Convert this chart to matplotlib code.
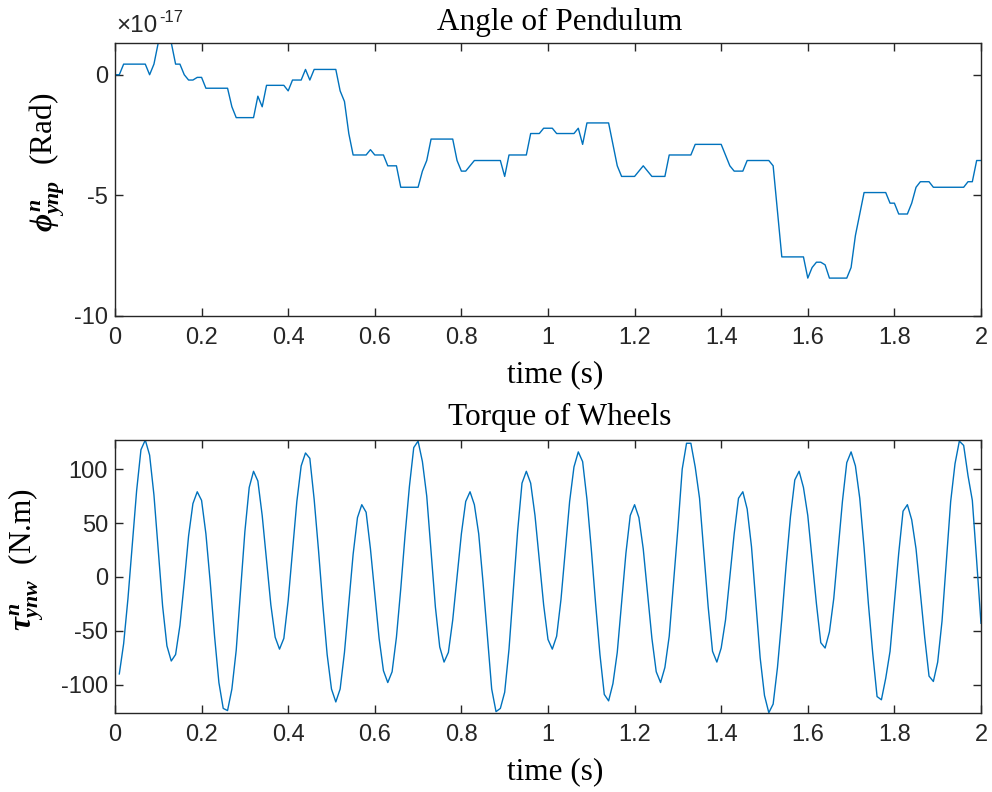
import numpy as np
import matplotlib
matplotlib.use("Agg")
import matplotlib.pyplot as plt
from matplotlib.ticker import FormatStrFormatter, FuncFormatter

# pendulum angle, in units of 1e-17 rad, sampled every 0.01 s from t = 0
phi_e17 = [
    0, 0, 0.44, 0.44, 0.44, 0.44, 0.44, 0.44, 0, 0.44,
    1.33, 1.33, 1.33, 1.33, 0.44, 0.44, 0, -0.22, -0.22, -0.11,
    -0.11, -0.56, -0.56, -0.56, -0.56, -0.56, -0.56, -1.33, -1.78, -1.78,
    -1.78, -1.78, -1.78, -0.89, -1.33, -0.44, -0.44, -0.44, -0.44, -0.44,
    -0.67, -0.22, -0.22, -0.22, 0.22, -0.22, 0.22, 0.22, 0.22, 0.22,
    0.22, 0.22, -0.67, -1.11, -2.44, -3.33, -3.33, -3.33, -3.33, -3.11,
    -3.33, -3.33, -3.33, -3.78, -3.78, -3.78, -4.67, -4.67, -4.67, -4.67,
    -4.67, -4.0, -3.56, -2.67, -2.67, -2.67, -2.67, -2.67, -2.67, -3.56,
    -4.0, -4.0, -3.78, -3.56, -3.56, -3.56, -3.56, -3.56, -3.56, -3.56,
    -4.22, -3.33, -3.33, -3.33, -3.33, -3.33, -2.44, -2.44, -2.44, -2.22,
    -2.22, -2.22, -2.44, -2.44, -2.44, -2.44, -2.44, -2.22, -2.89, -2.0,
    -2.0, -2.0, -2.0, -2.0, -2.0, -2.89, -3.78, -4.22, -4.22, -4.22,
    -4.22, -4.0, -3.78, -4.0, -4.22, -4.22, -4.22, -4.22, -3.33, -3.33,
    -3.33, -3.33, -3.33, -3.33, -2.89, -2.89, -2.89, -2.89, -2.89, -2.89,
    -2.89, -3.33, -3.78, -4.0, -4.0, -4.0, -3.56, -3.56, -3.56, -3.56,
    -3.56, -3.56, -3.78, -5.67, -7.56, -7.56, -7.56, -7.56, -7.56, -7.56,
    -8.44, -8.0, -7.78, -7.78, -7.89, -8.44, -8.44, -8.44, -8.44, -8.44,
    -8.0, -6.67, -5.78, -4.89, -4.89, -4.89, -4.89, -4.89, -4.89, -5.33,
    -5.33, -5.78, -5.78, -5.78, -5.33, -4.67, -4.44, -4.44, -4.44, -4.67,
    -4.67, -4.67, -4.67, -4.67, -4.67, -4.67, -4.67, -4.44, -4.44, -3.56,
    -3.56,
]

# wheel torque (N.m), sampled every 0.01 s from t = 0.01
torque = [
    -90, -62, -20, 30, 80, 118, 127, 113, 76, 25,
    -27, -64, -78, -72, -45, -5, 38, 68, 79, 71,
    40, -5, -55, -98, -122, -124, -104, -68, -13, 42,
    83, 98, 89, 57, 15, -26, -56, -67, -57, -22,
    24, 70, 103, 115, 110, 72, 25, -26, -72, -104,
    -116, -104, -70, -24, 21, 55, 67, 60, 26, -15,
    -57, -87, -98, -88, -56, -11, 39, 84, 120, 126,
    107, 75, 23, -28, -65, -79, -70, -40, 0, 40,
    70, 79, 67, 40, -5, -55, -104, -125, -122, -107,
    -67, -12, 43, 87, 98, 87, 57, 15, -26, -58,
    -67, -55, -21, 24, 70, 102, 116, 107, 72, 26,
    -25, -72, -109, -115, -99, -70, -24, 22, 57, 67,
    55, 26, -15, -57, -88, -98, -84, -55, -5, 45,
    100, 124, 124, 102, 73, 22, -28, -69, -79, -66,
    -40, 0, 40, 73, 79, 63, 28, -24, -75, -110,
    -126, -118, -84, -39, 11, 56, 90, 98, 83, 57,
    16, -25, -61, -66, -51, -20, 25, 70, 106, 116,
    103, 73, 27, -25, -71, -111, -114, -94, -69, -23,
    22, 61, 67, 53, 26, -15, -56, -92, -97, -79,
    -41, 14, 70, 105, 126, 122, 94, 71, 15, -43,
]

x_ticks = [0, 0.2, 0.4, 0.6, 0.8, 1, 1.2, 1.4, 1.6, 1.8, 2]

t_phi = np.arange(len(phi_e17)) * 0.01
t_tau = np.arange(1, len(torque) + 1) * 0.01

plt.rcParams['axes.unicode_minus'] = False
plt.rcParams['mathtext.fontset'] = 'custom'
plt.rcParams['mathtext.rm'] = 'Liberation Serif'
plt.rcParams['mathtext.it'] = 'Liberation Serif:italic:bold'
plt.rcParams['mathtext.bf'] = 'Liberation Serif:bold'

line_col = '#0072BD'
ax_col = '#262626'
serif = 'Liberation Serif'
sans = 'Liberation Sans'
big = 22.5

fig = plt.figure(figsize=(9.92, 7.92), dpi=100)
ax1 = fig.add_axes([0.1159, 0.6014, 0.873, 0.3447])
ax2 = fig.add_axes([0.1159, 0.1001, 0.873, 0.3443])


def style(ax):
    for s in ax.spines.values():
        s.set_color(ax_col)
        s.set_linewidth(1.0)
    ax.tick_params(direction='in', length=6, width=1.0, top=True, right=True,
                   colors=ax_col, labelsize=17)
    ax.tick_params(axis='x', pad=8)
    ax.tick_params(axis='y', pad=5)
    ax.set_xlim(0, 2)
    ax.set_xticks(x_ticks)
    ax.xaxis.set_major_formatter(FuncFormatter(lambda v, p: '%g' % v))
    ax.set_xlabel('time (s)', fontfamily=serif, fontsize=big, labelpad=8)
    ax.xaxis.label.set_x(0.508)


# top: angle of pendulum
ax1.plot(t_phi, phi_e17, color=line_col, lw=1.0)
style(ax1)
ax1.set_ylim(-10, max(phi_e17))
ax1.set_yticks([-10, -5, 0])
ax1.yaxis.set_major_formatter(FormatStrFormatter('%g'))
ax1.set_title('Angle of Pendulum', fontfamily=serif, fontsize=big, pad=9, x=0.514)
ax1.set_ylabel(r'$\phi^{n}_{ynp}$  (Rad)', fontfamily=serif, fontsize=big)
ax1.yaxis.set_label_coords(-0.055, 0.56)
off = ax1.annotate('×10', xy=(0, 1), xycoords='axes fraction', xytext=(1, 7.5),
                   textcoords='offset points', va='baseline', ha='left',
                   fontsize=17.5, fontfamily=sans, color=ax_col)
ax1.annotate('-17', xy=(1, 1), xycoords=off, xytext=(1, 4),
             textcoords='offset points', va='top', ha='left',
             fontsize=12, fontfamily=sans, color=ax_col)

# bottom: torque of wheels
ax2.plot(t_tau, torque, color=line_col, lw=1.0)
style(ax2)
ax2.set_ylim(min(torque), max(torque))
ax2.set_yticks([-100, -50, 0, 50, 100])
ax2.set_title('Torque of Wheels', fontfamily=serif, fontsize=big, pad=11, x=0.514)
ax2.set_ylabel(r'$\tau^{n}_{ynw}$  (N.m)', fontfamily=serif, fontsize=big)
ax2.yaxis.set_label_coords(-0.080, 0.56)

for ax in (ax1, ax2):
    for lab in ax.get_xticklabels() + ax.get_yticklabels():
        lab.set_fontfamily(sans)

fig.savefig('out.png', dpi=100)
